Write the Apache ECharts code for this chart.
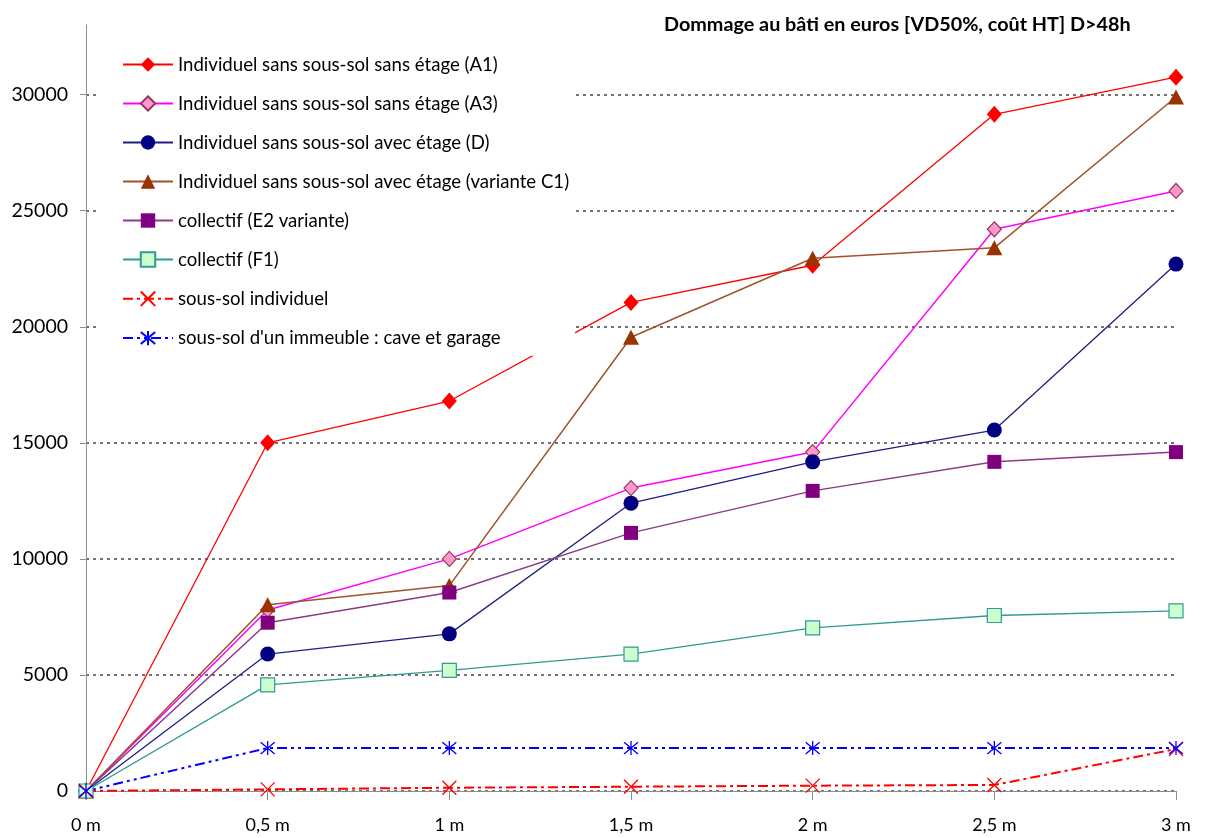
<!DOCTYPE html>
<html>
<head>
<meta charset="utf-8">
<script src="https://cdn.jsdelivr.net/npm/echarts@6/dist/echarts.min.js"></script>
<style>
  html, body { margin: 0; padding: 0; background: #fff; }
  #chart { width: 1206px; height: 838px; }
</style>
</head>
<body>
<div id="chart"></div>
<script>
// Water depth categories
const depths = ['0 m', '0,5 m', '1 m', '1,5 m', '2 m', '2,5 m', '3 m'];

// Damage to the building (euros) per dwelling type
const indivA1 = [0, 15000, 16800, 21050, 22650, 29150, 30750];
const indivA3 = [0, 7800, 10000, 13050, 14600, 24200, 25850];
const indivD = [0, 5900, 6770, 12400, 14180, 15550, 22700];
const indivC1 = [0, 8020, 8850, 19550, 22950, 23400, 29900];
const collE2 = [0, 7250, 8550, 11120, 12930, 14180, 14600];
const collF1 = [0, 4570, 5200, 5900, 7030, 7560, 7760];
const sousSolIndiv = [0, 70, 140, 185, 230, 260, 1810];
const sousSolImmeuble = [0, 1850, 1850, 1850, 1850, 1850, 1850];

// Value axis ticks
const yTicks = [0, 5000, 10000, 15000, 20000, 25000, 30000];

const seriesNames = [
  'Individuel sans sous-sol sans étage (A1)',
  'Individuel sans sous-sol sans étage (A3)',
  'Individuel sans sous-sol avec étage (D)',
  'Individuel sans sous-sol avec étage (variante C1)',
  'collectif (E2 variante)',
  'collectif (F1)',
  'sous-sol individuel',
  "sous-sol d'un immeuble : cave et garage"
];

const FONT = 'Lato';
const crossPath = 'path://M0,0L10,10M10,0L0,10';
const starPath = 'path://M0,0L10,10M10,0L0,10M5,-1L5,11';

function lineSeries(name, data, opts) {
  return Object.assign({
    name: name,
    type: 'line',
    data: data,
    symbolSize: 14,
    showAllSymbol: true,
    animation: false,
    emphasis: { disabled: true }
  }, opts);
}

const chart = echarts.init(document.getElementById('chart'), null, { renderer: 'canvas' });

chart.setOption({
  backgroundColor: '#ffffff',
  animation: false,
  title: {
    text: 'Dommage au bâti en euros [VD50%, coût HT] D>48h',
    left: 659,
    top: 10,
    textStyle: { fontFamily: FONT, fontSize: 19.8, fontWeight: 'bold', color: '#000' }
  },
  legend: {
    orient: 'vertical',
    left: 100,
    top: 44,
    padding: [11, 6, 8, 22],
    backgroundColor: '#ffffff',
    itemWidth: 50,
    itemHeight: 18,
    itemGap: 20,
    textStyle: { fontFamily: FONT, fontSize: 18.6, lineHeight: 18, color: '#000' },
    data: seriesNames
  },
  grid: { left: 86, right: 30, top: 25, bottom: 47, containLabel: false },
  xAxis: {
    type: 'category',
    data: depths,
    boundaryGap: false,
    axisLine: { lineStyle: { color: '#8c8c8c', width: 1 } },
    axisTick: { show: true, alignWithLabel: true, length: 9, lineStyle: { color: '#8c8c8c' } },
    axisLabel: { fontFamily: FONT, fontSize: 18, color: '#000', margin: 25 },
    splitLine: { show: false }
  },
  yAxis: {
    type: 'value',
    min: 0,
    max: 33000,
    axisLine: { show: true, lineStyle: { color: '#8c8c8c', width: 1 } },
    axisTick: { show: true, length: 6, customValues: yTicks, lineStyle: { color: '#8c8c8c' } },
    axisLabel: {
      fontFamily: FONT, fontSize: 19.5, color: '#000', margin: 18, customValues: yTicks,
      formatter: function (v) { return String(v); }
    },
    splitLine: { show: true, lineStyle: { color: '#707070', width: 2, type: [3, 4] } }
  },
  series: [
    lineSeries(seriesNames[0], indivA1, {
      symbol: 'diamond', symbolSize: [15, 17],
      lineStyle: { color: '#ff0000', width: 1.3 },
      itemStyle: { color: '#ff0000' }
    }),
    lineSeries(seriesNames[1], indivA3, {
      symbol: 'diamond', symbolSize: [14, 15],
      lineStyle: { color: '#ff00ff', width: 1.5 },
      itemStyle: { color: '#ff99cc', borderColor: '#993366', borderWidth: 1.2 }
    }),
    lineSeries(seriesNames[2], indivD, {
      symbol: 'circle', symbolSize: 15,
      lineStyle: { color: '#1f1f80', width: 1.3 },
      itemStyle: { color: '#000080' }
    }),
    lineSeries(seriesNames[3], indivC1, {
      symbol: 'triangle', symbolSize: [16, 15],
      lineStyle: { color: '#a0522d', width: 1.5 },
      itemStyle: { color: '#993300' }
    }),
    lineSeries(seriesNames[4], collE2, {
      symbol: 'rect', symbolSize: 14,
      lineStyle: { color: '#8b3a8b', width: 1.5 },
      itemStyle: { color: '#800080' }
    }),
    lineSeries(seriesNames[5], collF1, {
      symbol: 'rect', symbolSize: 14,
      lineStyle: { color: '#2e9a90', width: 1.3 },
      itemStyle: { color: '#ccffcc', borderColor: '#339999', borderWidth: 1.2 }
    }),
    lineSeries(seriesNames[6], sousSolIndiv, {
      symbol: crossPath, symbolSize: 14,
      lineStyle: { color: '#ff0000', width: 2, type: [10, 4, 3, 4] },
      itemStyle: { color: 'none', borderColor: '#ff0000', borderWidth: 1.3 }
    }),
    lineSeries(seriesNames[7], sousSolImmeuble, {
      symbol: starPath, symbolSize: 14,
      lineStyle: { color: '#0000ff', width: 2, type: [10, 4, 3, 4, 3, 4] },
      itemStyle: { color: 'none', borderColor: '#0000ff', borderWidth: 1.3 }
    })
  ]
});
</script>
</body>
</html>
